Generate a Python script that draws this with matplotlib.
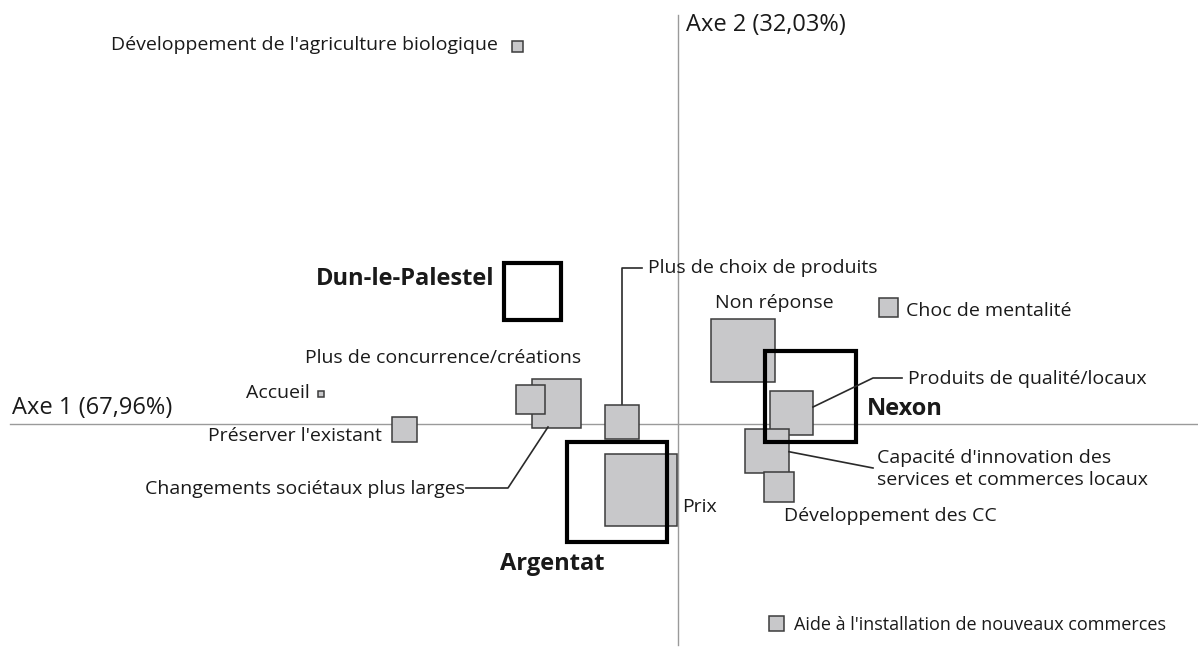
import matplotlib.pyplot as plt
from matplotlib.patches import Rectangle

plt.rcParams['font.family'] = ['Open Sans', 'DejaVu Sans']

#%% Donnees (coordonnees factorielles, taille = cote du carre)
rep_labels = ["Développement de l'agriculture biologique",
              "Choc de mentalité",
              "Non réponse",
              "Produits de qualité/locaux",
              "Capacité d'innovation des services et commerces locaux",
              "Développement des CC",
              "Aide à l'installation de nouveaux commerces",
              "Prix",
              "Plus de choix de produits",
              "Changements sociétaux plus larges",
              "Plus de concurrence/créations",
              "Accueil",
              "Préserver l'existant"]
rep_x = [-0.401, 0.525, 0.1625, 0.283, 0.2225, 0.2525, 0.245, -0.0925, -0.14, -0.305, -0.37, -0.8925, -0.685]
rep_y = [0.943, 0.291, 0.184, 0.0275, -0.0675, -0.1575, -0.4975, -0.165, 0.005, 0.0525, 0.0625, 0.076, -0.014]
rep_size = [0.0275, 0.0475, 0.158, 0.108, 0.108, 0.073, 0.0375, 0.18, 0.085, 0.1225, 0.0725, 0.015, 0.0625]

villes = ["Dun-le-Palestel", "Argentat", "Nexon"]
ville_x = [-0.365, -0.1525, 0.331]
ville_y = [0.3325, -0.17, 0.07]
ville_size = [0.1425, 0.25, 0.2275]

axe1 = "Axe 1 (67,96%)"
axe2 = "Axe 2 (32,03%)"

#%% Plot
fig = plt.figure(figsize=(11.98, 6.6), dpi=100)
ax = fig.add_axes([0, 0, 1, 1])
ax.set_xlim(-1.695, 1.3)
ax.set_ylim(-0.59, 1.06)
ax.set_aspect('equal')
ax.axis('off')

# Axes factoriels
ax.plot([0, 0], [-0.5525, 1.0225], color='#9a9a9a', lw=1, zorder=0)
ax.plot([-1.67, 1.2975], [0, 0], color='#9a9a9a', lw=1, zorder=0)
ax.text(0.02, 0.9975, axe2, fontsize=17, va='center', ha='left', color='#1a1a1a')
ax.text(-1.665, 0.04, axe1, fontsize=17, va='center', ha='left', color='#1a1a1a')

# Modalites (carres gris)
for x, y, s in zip(rep_x, rep_y, rep_size):
    ax.add_patch(Rectangle((x - s / 2, y - s / 2), s, s, facecolor='#c8c8ca',
                           edgecolor='#3c3c3c', lw=1.1, zorder=2))

# Villes (carres noirs epais)
for x, y, s in zip(ville_x, ville_y, ville_size):
    ax.add_patch(Rectangle((x - s / 2, y - s / 2), s, s, facecolor='none',
                           edgecolor='black', lw=3, zorder=3))

# Etiquettes
tc = '#1a1a1a'
fs = 14
ax.text(-0.45, 0.9475, rep_labels[0], fontsize=fs, ha='right', va='center', color=tc)
ax.text(0.57, 0.2825, rep_labels[1], fontsize=fs, ha='left', va='center', color=tc)
ax.text(0.0925, 0.3025, rep_labels[2], fontsize=fs, ha='left', va='center', color=tc)
ax.text(0.575, 0.1125, rep_labels[3], fontsize=fs, ha='left', va='center', color=tc)
ax.text(0.4975, -0.1125, "Capacité d'innovation des\nservices et commerces locaux",
        fontsize=fs, ha='left', va='center', color=tc, linespacing=1.25)
ax.text(0.265, -0.23, rep_labels[5], fontsize=fs, ha='left', va='center', color=tc)
ax.text(0.29, -0.5025, rep_labels[6], fontsize=13, ha='left', va='center', color=tc)
ax.text(0.01, -0.2075, rep_labels[7], fontsize=fs, ha='left', va='center', color=tc)
ax.text(-0.075, 0.39, rep_labels[8], fontsize=fs, ha='left', va='center', color=tc)
ax.text(-0.5325, -0.1625, rep_labels[9], fontsize=fs, ha='right', va='center', color=tc)
ax.text(-0.5875, 0.165, rep_labels[10], fontsize=fs, ha='center', va='center', color=tc)
ax.text(-0.92, 0.0775, rep_labels[11], fontsize=fs, ha='right', va='center', color=tc)
ax.text(-0.74, -0.03, rep_labels[12], fontsize=fs, ha='right', va='center', color=tc)

ax.text(-0.46, 0.3625, villes[0], fontsize=17, fontweight='bold', ha='right', va='center', color=tc)
ax.text(-0.315, -0.35, villes[1], fontsize=17, fontweight='bold', ha='center', va='center', color=tc)
ax.text(0.4725, 0.0375, villes[2], fontsize=17, fontweight='bold', ha='left', va='center', color=tc)

# Traits de rappel
lc = '#2a2a2a'
ax.plot([-0.14, -0.14, -0.09], [0.0475, 0.39, 0.39], color=lc, lw=1.2, zorder=1)
ax.plot([-0.53, -0.425, -0.325], [-0.16, -0.16, -0.0075], color=lc, lw=1.2, zorder=4)
ax.plot([0.3375, 0.4875, 0.56], [0.0425, 0.115, 0.115], color=lc, lw=1.2, zorder=4)
ax.plot([0.2775, 0.4875], [-0.0693, -0.11], color=lc, lw=1.2, zorder=4)

fig.savefig('out.png', dpi=100)
